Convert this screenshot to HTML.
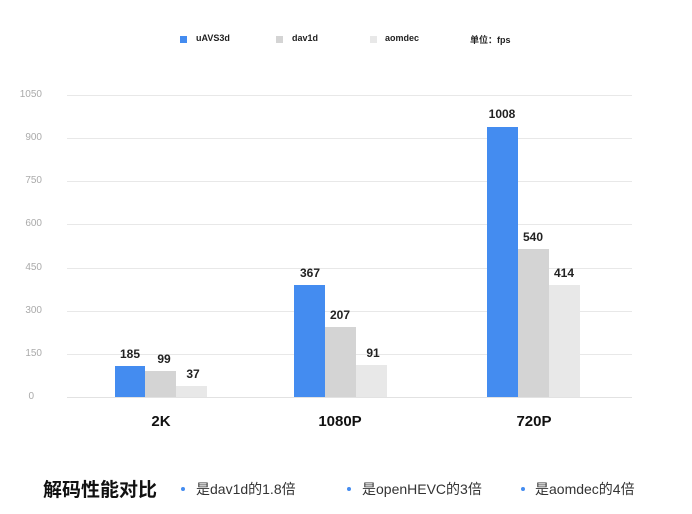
<!DOCTYPE html>
<html><head><meta charset="utf-8"><style>
body{margin:0;background:#fff;width:692px;height:514px;overflow:hidden;position:relative;font-family:"Liberation Sans","Noto Sans CJK SC",sans-serif;}
.a{position:absolute;}
.g{position:absolute;left:67px;width:565px;height:1px;background:#e8e8e8;}
.t{position:absolute;left:18px;width:24px;text-align:right;font-size:10px;color:#aaa;}
.b{position:absolute;}
.v{position:absolute;width:40px;text-align:center;font-size:12px;font-weight:bold;color:#222;}
.c{position:absolute;width:100px;text-align:center;font-size:15px;font-weight:bold;color:#111;}
</style></head><body>
<div class="a" style="left:180px;top:36px;width:7px;height:7px;background:#448cf0"></div>
<div class="a" style="left:196px;top:33px;font-size:9px;color:#222;font-weight:bold">uAVS3d</div>
<div class="a" style="left:276px;top:36px;width:7px;height:7px;background:#d4d4d4"></div>
<div class="a" style="left:292px;top:33px;font-size:9px;color:#222;font-weight:bold">dav1d</div>
<div class="a" style="left:370px;top:36px;width:7px;height:7px;background:#e8e8e8"></div>
<div class="a" style="left:385px;top:33px;font-size:9px;color:#222;font-weight:bold">aomdec</div>
<div class="a" style="left:470px;top:33px;font-size:9px;color:#222;font-weight:bold">单位：fps</div>

<div class="g" style="top:95px"></div><div class="t" style="top:89px">1050</div>
<div class="g" style="top:138px"></div><div class="t" style="top:132px">900</div>
<div class="g" style="top:181px"></div><div class="t" style="top:175px">750</div>
<div class="g" style="top:224px"></div><div class="t" style="top:218px">600</div>
<div class="g" style="top:268px"></div><div class="t" style="top:262px">450</div>
<div class="g" style="top:311px"></div><div class="t" style="top:305px">300</div>
<div class="g" style="top:354px"></div><div class="t" style="top:348px">150</div>
<div class="g" style="top:397px;background:#e2e2e2"></div><div class="t" style="top:391px;width:16px">0</div>

<div class="b" style="left:115px;top:366px;width:30px;height:31px;background:#448cf0"></div>
<div class="b" style="left:145px;top:371px;width:31px;height:26px;background:#d4d4d4"></div>
<div class="b" style="left:176px;top:386px;width:31px;height:11px;background:#e8e8e8"></div>
<div class="b" style="left:294px;top:285px;width:31px;height:112px;background:#448cf0"></div>
<div class="b" style="left:325px;top:327px;width:31px;height:70px;background:#d4d4d4"></div>
<div class="b" style="left:356px;top:365px;width:31px;height:32px;background:#e8e8e8"></div>
<div class="b" style="left:487px;top:127px;width:31px;height:270px;background:#448cf0"></div>
<div class="b" style="left:518px;top:249px;width:31px;height:148px;background:#d4d4d4"></div>
<div class="b" style="left:549px;top:285px;width:31px;height:112px;background:#e8e8e8"></div>

<div class="v" style="left:110px;top:347px">185</div>
<div class="v" style="left:144px;top:352px">99</div>
<div class="v" style="left:173px;top:367px">37</div>
<div class="v" style="left:290px;top:266px">367</div>
<div class="v" style="left:320px;top:308px">207</div>
<div class="v" style="left:353px;top:346px">91</div>
<div class="v" style="left:482px;top:107px">1008</div>
<div class="v" style="left:513px;top:230px">540</div>
<div class="v" style="left:544px;top:266px">414</div>

<div class="c" style="left:111px;top:413px">2K</div>
<div class="c" style="left:290px;top:413px">1080P</div>
<div class="c" style="left:484px;top:413px">720P</div>

<div class="a" style="left:43px;top:475px;font-size:19px;font-weight:bold;color:#111">解码性能对比</div>
<div class="a" style="left:181px;top:487px;width:4px;height:4px;border-radius:50%;background:#448cf0"></div>
<div class="a" style="left:196px;top:479px;font-size:14px;color:#333">是dav1d的1.8倍</div>
<div class="a" style="left:347px;top:487px;width:4px;height:4px;border-radius:50%;background:#448cf0"></div>
<div class="a" style="left:362px;top:479px;font-size:14px;color:#333">是openHEVC的3倍</div>
<div class="a" style="left:521px;top:487px;width:4px;height:4px;border-radius:50%;background:#448cf0"></div>
<div class="a" style="left:535px;top:479px;font-size:14px;color:#333">是aomdec的4倍</div>
</body></html>
